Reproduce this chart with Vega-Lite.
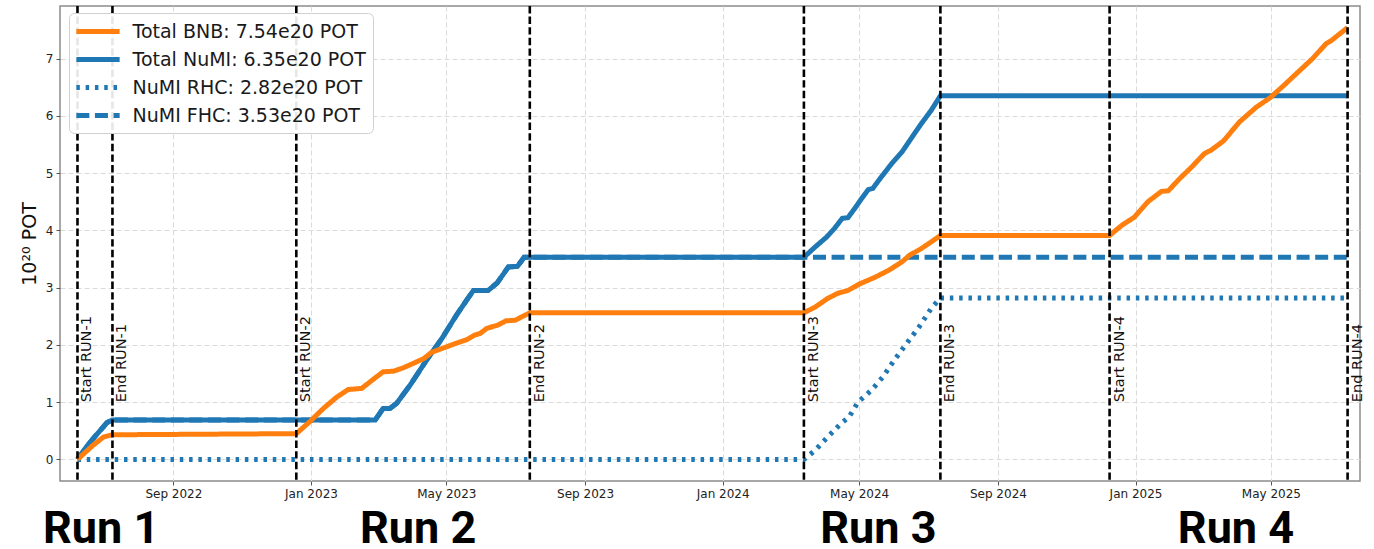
{
  "$schema": "https://vega.github.io/schema/vega-lite/v6.json",
  "width": 1300,
  "height": 475,
  "autosize": {"type": "none"},
  "padding": {"left": 60, "top": 6, "right": 14, "bottom": 68},
  "background": "white",
  "config": {
    "font": "DejaVu Sans",
    "view": {"stroke": "#8c8c8c", "strokeWidth": 1.5},
    "axis": {
      "grid": true,
      "gridColor": "#dadada",
      "gridDash": [5, 3],
      "gridWidth": 1,
      "domain": false,
      "tickColor": "#555555",
      "tickSize": 4,
      "labelFont": "DejaVu Sans",
      "labelFontSize": 12,
      "labelColor": "#222222",
      "labelPadding": 3
    }
  },
  "datasets": {
    "pot": [
      {"series": "Total BNB: 7.54e20 POT", "date": "2022-06-08", "pot": 0},
      {"series": "Total BNB: 7.54e20 POT", "date": "2022-06-22", "pot": 0.25},
      {"series": "Total BNB: 7.54e20 POT", "date": "2022-07-01", "pot": 0.39},
      {"series": "Total BNB: 7.54e20 POT", "date": "2022-07-09", "pot": 0.43},
      {"series": "Total BNB: 7.54e20 POT", "date": "2022-12-19", "pot": 0.45},
      {"series": "Total BNB: 7.54e20 POT", "date": "2022-12-31", "pot": 0.66},
      {"series": "Total BNB: 7.54e20 POT", "date": "2023-01-12", "pot": 0.89},
      {"series": "Total BNB: 7.54e20 POT", "date": "2023-01-24", "pot": 1.09},
      {"series": "Total BNB: 7.54e20 POT", "date": "2023-02-03", "pot": 1.22},
      {"series": "Total BNB: 7.54e20 POT", "date": "2023-02-15", "pot": 1.24},
      {"series": "Total BNB: 7.54e20 POT", "date": "2023-02-24", "pot": 1.38},
      {"series": "Total BNB: 7.54e20 POT", "date": "2023-03-06", "pot": 1.53},
      {"series": "Total BNB: 7.54e20 POT", "date": "2023-03-15", "pot": 1.54},
      {"series": "Total BNB: 7.54e20 POT", "date": "2023-03-24", "pot": 1.60},
      {"series": "Total BNB: 7.54e20 POT", "date": "2023-04-02", "pot": 1.68},
      {"series": "Total BNB: 7.54e20 POT", "date": "2023-04-11", "pot": 1.76},
      {"series": "Total BNB: 7.54e20 POT", "date": "2023-04-18", "pot": 1.87},
      {"series": "Total BNB: 7.54e20 POT", "date": "2023-04-29", "pot": 1.95},
      {"series": "Total BNB: 7.54e20 POT", "date": "2023-05-10", "pot": 2.03},
      {"series": "Total BNB: 7.54e20 POT", "date": "2023-05-19", "pot": 2.09},
      {"series": "Total BNB: 7.54e20 POT", "date": "2023-05-26", "pot": 2.17},
      {"series": "Total BNB: 7.54e20 POT", "date": "2023-05-31", "pot": 2.20},
      {"series": "Total BNB: 7.54e20 POT", "date": "2023-06-06", "pot": 2.29},
      {"series": "Total BNB: 7.54e20 POT", "date": "2023-06-15", "pot": 2.34},
      {"series": "Total BNB: 7.54e20 POT", "date": "2023-06-23", "pot": 2.42},
      {"series": "Total BNB: 7.54e20 POT", "date": "2023-07-01", "pot": 2.43},
      {"series": "Total BNB: 7.54e20 POT", "date": "2023-07-08", "pot": 2.50},
      {"series": "Total BNB: 7.54e20 POT", "date": "2023-07-14", "pot": 2.56},
      {"series": "Total BNB: 7.54e20 POT", "date": "2024-03-13", "pot": 2.56},
      {"series": "Total BNB: 7.54e20 POT", "date": "2024-03-23", "pot": 2.66},
      {"series": "Total BNB: 7.54e20 POT", "date": "2024-04-03", "pot": 2.81},
      {"series": "Total BNB: 7.54e20 POT", "date": "2024-04-12", "pot": 2.90},
      {"series": "Total BNB: 7.54e20 POT", "date": "2024-04-21", "pot": 2.95},
      {"series": "Total BNB: 7.54e20 POT", "date": "2024-05-02", "pot": 3.07},
      {"series": "Total BNB: 7.54e20 POT", "date": "2024-05-15", "pot": 3.18},
      {"series": "Total BNB: 7.54e20 POT", "date": "2024-05-27", "pot": 3.30},
      {"series": "Total BNB: 7.54e20 POT", "date": "2024-06-08", "pot": 3.45},
      {"series": "Total BNB: 7.54e20 POT", "date": "2024-06-15", "pot": 3.57},
      {"series": "Total BNB: 7.54e20 POT", "date": "2024-06-25", "pot": 3.68},
      {"series": "Total BNB: 7.54e20 POT", "date": "2024-07-04", "pot": 3.80},
      {"series": "Total BNB: 7.54e20 POT", "date": "2024-07-12", "pot": 3.91},
      {"series": "Total BNB: 7.54e20 POT", "date": "2024-12-09", "pot": 3.91},
      {"series": "Total BNB: 7.54e20 POT", "date": "2024-12-20", "pot": 4.09},
      {"series": "Total BNB: 7.54e20 POT", "date": "2024-12-31", "pot": 4.23},
      {"series": "Total BNB: 7.54e20 POT", "date": "2025-01-12", "pot": 4.50},
      {"series": "Total BNB: 7.54e20 POT", "date": "2025-01-24", "pot": 4.68},
      {"series": "Total BNB: 7.54e20 POT", "date": "2025-01-30", "pot": 4.69},
      {"series": "Total BNB: 7.54e20 POT", "date": "2025-02-09", "pot": 4.90},
      {"series": "Total BNB: 7.54e20 POT", "date": "2025-02-20", "pot": 5.11},
      {"series": "Total BNB: 7.54e20 POT", "date": "2025-03-03", "pot": 5.34},
      {"series": "Total BNB: 7.54e20 POT", "date": "2025-03-09", "pot": 5.40},
      {"series": "Total BNB: 7.54e20 POT", "date": "2025-03-20", "pot": 5.56},
      {"series": "Total BNB: 7.54e20 POT", "date": "2025-04-03", "pot": 5.89},
      {"series": "Total BNB: 7.54e20 POT", "date": "2025-04-18", "pot": 6.15},
      {"series": "Total BNB: 7.54e20 POT", "date": "2025-04-30", "pot": 6.31},
      {"series": "Total BNB: 7.54e20 POT", "date": "2025-05-13", "pot": 6.54},
      {"series": "Total BNB: 7.54e20 POT", "date": "2025-05-26", "pot": 6.78},
      {"series": "Total BNB: 7.54e20 POT", "date": "2025-06-07", "pot": 7.00},
      {"series": "Total BNB: 7.54e20 POT", "date": "2025-06-19", "pot": 7.26},
      {"series": "Total BNB: 7.54e20 POT", "date": "2025-06-24", "pot": 7.32},
      {"series": "Total BNB: 7.54e20 POT", "date": "2025-07-08", "pot": 7.54},

      {"series": "Total NuMI: 6.35e20 POT", "date": "2022-06-08", "pot": 0},
      {"series": "Total NuMI: 6.35e20 POT", "date": "2022-06-16", "pot": 0.22},
      {"series": "Total NuMI: 6.35e20 POT", "date": "2022-06-23", "pot": 0.39},
      {"series": "Total NuMI: 6.35e20 POT", "date": "2022-07-01", "pot": 0.57},
      {"series": "Total NuMI: 6.35e20 POT", "date": "2022-07-04", "pot": 0.64},
      {"series": "Total NuMI: 6.35e20 POT", "date": "2022-07-09", "pot": 0.69},
      {"series": "Total NuMI: 6.35e20 POT", "date": "2023-02-27", "pot": 0.69},
      {"series": "Total NuMI: 6.35e20 POT", "date": "2023-03-06", "pot": 0.89},
      {"series": "Total NuMI: 6.35e20 POT", "date": "2023-03-12", "pot": 0.89},
      {"series": "Total NuMI: 6.35e20 POT", "date": "2023-03-18", "pot": 0.98},
      {"series": "Total NuMI: 6.35e20 POT", "date": "2023-03-30", "pot": 1.30},
      {"series": "Total NuMI: 6.35e20 POT", "date": "2023-04-13", "pot": 1.72},
      {"series": "Total NuMI: 6.35e20 POT", "date": "2023-04-27", "pot": 2.11},
      {"series": "Total NuMI: 6.35e20 POT", "date": "2023-05-10", "pot": 2.52},
      {"series": "Total NuMI: 6.35e20 POT", "date": "2023-05-19", "pot": 2.78},
      {"series": "Total NuMI: 6.35e20 POT", "date": "2023-05-25", "pot": 2.95},
      {"series": "Total NuMI: 6.35e20 POT", "date": "2023-06-07", "pot": 2.95},
      {"series": "Total NuMI: 6.35e20 POT", "date": "2023-06-15", "pot": 3.08},
      {"series": "Total NuMI: 6.35e20 POT", "date": "2023-06-25", "pot": 3.36},
      {"series": "Total NuMI: 6.35e20 POT", "date": "2023-07-03", "pot": 3.37},
      {"series": "Total NuMI: 6.35e20 POT", "date": "2023-07-09", "pot": 3.53},
      {"series": "Total NuMI: 6.35e20 POT", "date": "2023-07-14", "pot": 3.53},
      {"series": "Total NuMI: 6.35e20 POT", "date": "2024-03-13", "pot": 3.53},
      {"series": "Total NuMI: 6.35e20 POT", "date": "2024-03-23", "pot": 3.71},
      {"series": "Total NuMI: 6.35e20 POT", "date": "2024-04-02", "pot": 3.88},
      {"series": "Total NuMI: 6.35e20 POT", "date": "2024-04-09", "pot": 4.03},
      {"series": "Total NuMI: 6.35e20 POT", "date": "2024-04-16", "pot": 4.21},
      {"series": "Total NuMI: 6.35e20 POT", "date": "2024-04-21", "pot": 4.22},
      {"series": "Total NuMI: 6.35e20 POT", "date": "2024-04-27", "pot": 4.38},
      {"series": "Total NuMI: 6.35e20 POT", "date": "2024-05-03", "pot": 4.55},
      {"series": "Total NuMI: 6.35e20 POT", "date": "2024-05-09", "pot": 4.71},
      {"series": "Total NuMI: 6.35e20 POT", "date": "2024-05-13", "pot": 4.73},
      {"series": "Total NuMI: 6.35e20 POT", "date": "2024-05-19", "pot": 4.89},
      {"series": "Total NuMI: 6.35e20 POT", "date": "2024-05-30", "pot": 5.17},
      {"series": "Total NuMI: 6.35e20 POT", "date": "2024-06-08", "pot": 5.37},
      {"series": "Total NuMI: 6.35e20 POT", "date": "2024-06-18", "pot": 5.66},
      {"series": "Total NuMI: 6.35e20 POT", "date": "2024-06-25", "pot": 5.86},
      {"series": "Total NuMI: 6.35e20 POT", "date": "2024-07-04", "pot": 6.10},
      {"series": "Total NuMI: 6.35e20 POT", "date": "2024-07-12", "pot": 6.35},
      {"series": "Total NuMI: 6.35e20 POT", "date": "2025-07-08", "pot": 6.35},

      {"series": "NuMI RHC: 2.82e20 POT", "date": "2022-06-08", "pot": 0},
      {"series": "NuMI RHC: 2.82e20 POT", "date": "2024-03-13", "pot": 0},
      {"series": "NuMI RHC: 2.82e20 POT", "date": "2024-03-23", "pot": 0.16},
      {"series": "NuMI RHC: 2.82e20 POT", "date": "2024-04-03", "pot": 0.39},
      {"series": "NuMI RHC: 2.82e20 POT", "date": "2024-04-15", "pot": 0.63},
      {"series": "NuMI RHC: 2.82e20 POT", "date": "2024-04-22", "pot": 0.74},
      {"series": "NuMI RHC: 2.82e20 POT", "date": "2024-04-30", "pot": 1.00},
      {"series": "NuMI RHC: 2.82e20 POT", "date": "2024-05-12", "pot": 1.21},
      {"series": "NuMI RHC: 2.82e20 POT", "date": "2024-05-22", "pot": 1.44},
      {"series": "NuMI RHC: 2.82e20 POT", "date": "2024-06-01", "pot": 1.73},
      {"series": "NuMI RHC: 2.82e20 POT", "date": "2024-06-10", "pot": 1.97},
      {"series": "NuMI RHC: 2.82e20 POT", "date": "2024-06-23", "pot": 2.31},
      {"series": "NuMI RHC: 2.82e20 POT", "date": "2024-07-04", "pot": 2.64},
      {"series": "NuMI RHC: 2.82e20 POT", "date": "2024-07-12", "pot": 2.82},
      {"series": "NuMI RHC: 2.82e20 POT", "date": "2025-07-08", "pot": 2.82},

      {"series": "NuMI FHC: 3.53e20 POT", "date": "2022-06-08", "pot": 0},
      {"series": "NuMI FHC: 3.53e20 POT", "date": "2022-06-16", "pot": 0.22},
      {"series": "NuMI FHC: 3.53e20 POT", "date": "2022-06-23", "pot": 0.39},
      {"series": "NuMI FHC: 3.53e20 POT", "date": "2022-07-01", "pot": 0.57},
      {"series": "NuMI FHC: 3.53e20 POT", "date": "2022-07-04", "pot": 0.64},
      {"series": "NuMI FHC: 3.53e20 POT", "date": "2022-07-09", "pot": 0.69},
      {"series": "NuMI FHC: 3.53e20 POT", "date": "2023-02-27", "pot": 0.69},
      {"series": "NuMI FHC: 3.53e20 POT", "date": "2023-03-06", "pot": 0.89},
      {"series": "NuMI FHC: 3.53e20 POT", "date": "2023-03-12", "pot": 0.89},
      {"series": "NuMI FHC: 3.53e20 POT", "date": "2023-03-18", "pot": 0.98},
      {"series": "NuMI FHC: 3.53e20 POT", "date": "2023-03-30", "pot": 1.30},
      {"series": "NuMI FHC: 3.53e20 POT", "date": "2023-04-13", "pot": 1.72},
      {"series": "NuMI FHC: 3.53e20 POT", "date": "2023-04-27", "pot": 2.11},
      {"series": "NuMI FHC: 3.53e20 POT", "date": "2023-05-10", "pot": 2.52},
      {"series": "NuMI FHC: 3.53e20 POT", "date": "2023-05-19", "pot": 2.78},
      {"series": "NuMI FHC: 3.53e20 POT", "date": "2023-05-25", "pot": 2.95},
      {"series": "NuMI FHC: 3.53e20 POT", "date": "2023-06-07", "pot": 2.95},
      {"series": "NuMI FHC: 3.53e20 POT", "date": "2023-06-15", "pot": 3.08},
      {"series": "NuMI FHC: 3.53e20 POT", "date": "2023-06-25", "pot": 3.36},
      {"series": "NuMI FHC: 3.53e20 POT", "date": "2023-07-03", "pot": 3.37},
      {"series": "NuMI FHC: 3.53e20 POT", "date": "2023-07-09", "pot": 3.53},
      {"series": "NuMI FHC: 3.53e20 POT", "date": "2023-07-14", "pot": 3.53},
      {"series": "NuMI FHC: 3.53e20 POT", "date": "2024-03-13", "pot": 3.53},
      {"series": "NuMI FHC: 3.53e20 POT", "date": "2025-07-08", "pot": 3.53}
    ],
    "runs": [
      {"date": "2022-06-08", "label": "Start RUN-1", "yv": 1},
      {"date": "2022-07-09", "label": "End RUN-1", "yv": 1},
      {"date": "2022-12-19", "label": "Start RUN-2", "yv": 1},
      {"date": "2023-07-14", "label": "End RUN-2", "yv": 1},
      {"date": "2024-03-13", "label": "Start RUN-3", "yv": 1},
      {"date": "2024-07-12", "label": "End RUN-3", "yv": 1},
      {"date": "2024-12-09", "label": "Start RUN-4", "yv": 1},
      {"date": "2025-07-08", "label": "End RUN-4", "yv": 1}
    ],
    "periods": [
      {"date": "2022-06-29", "label": "Run 1", "yv": -1.46},
      {"date": "2023-04-06", "label": "Run 2", "yv": -1.46},
      {"date": "2024-05-18", "label": "Run 3", "yv": -1.46},
      {"date": "2025-03-31", "label": "Run 4", "yv": -1.46}
    ]
  },
  "layer": [
    {
      "data": {"name": "pot"},
      "encoding": {
        "x": {
          "field": "date",
          "type": "temporal",
          "title": null,
          "scale": {
            "type": "utc",
            "domain": [
              {"year": 2022, "month": 5, "date": 23, "hours": 12, "utc": true},
              {"year": 2025, "month": 7, "date": 19, "utc": true}
            ]
          },
          "axis": {
            "format": "%b %Y",
            "values": [
              {"year": 2022, "month": 9, "date": 1, "utc": true},
              {"year": 2023, "month": 1, "date": 1, "utc": true},
              {"year": 2023, "month": 5, "date": 1, "utc": true},
              {"year": 2023, "month": 9, "date": 1, "utc": true},
              {"year": 2024, "month": 1, "date": 1, "utc": true},
              {"year": 2024, "month": 5, "date": 1, "utc": true},
              {"year": 2024, "month": 9, "date": 1, "utc": true},
              {"year": 2025, "month": 1, "date": 1, "utc": true},
              {"year": 2025, "month": 5, "date": 1, "utc": true}
            ]
          }
        },
        "y": {
          "field": "pot",
          "type": "quantitative",
          "title": "10²⁰ POT",
          "scale": {"domain": [-0.377, 7.917], "nice": false, "zero": false},
          "axis": {
            "values": [0, 1, 2, 3, 4, 5, 6, 7],
            "format": "d",
            "titleFont": "DejaVu Sans",
            "titleFontSize": 19,
            "titleFontWeight": "normal",
            "titleColor": "#111111",
            "titlePadding": 6
          }
        },
        "color": {
          "field": "series",
          "type": "nominal",
          "scale": {
            "domain": ["Total BNB: 7.54e20 POT", "Total NuMI: 6.35e20 POT", "NuMI RHC: 2.82e20 POT", "NuMI FHC: 3.53e20 POT"],
            "range": ["#ff7f0e", "#1f77b4", "#1f77b4", "#1f77b4"]
          },
          "legend": {
            "orient": "none",
            "legendX": 9,
            "legendY": 7,
            "title": null,
            "symbolType": "M-2.5,0H2.5",
            "symbolSize": 300,
            "symbolOffset": 10.5,
            "labelFont": "DejaVu Sans",
            "labelFontSize": 19,
            "labelColor": "#1a1a1a",
            "labelLimit": 500,
            "labelOffset": 23,
            "padding": 7,
            "rowPadding": 6,
            "fillColor": "rgba(255,255,255,0.9)",
            "strokeColor": "#d0d0d0",
            "cornerRadius": 5
          }
        },
        "strokeDash": {
          "field": "series",
          "type": "nominal",
          "scale": {
            "domain": ["Total BNB: 7.54e20 POT", "Total NuMI: 6.35e20 POT", "NuMI RHC: 2.82e20 POT", "NuMI FHC: 3.53e20 POT"],
            "range": [[1, 0], [1, 0], [3.5, 5.8], [13, 5.6]]
          }
        },
        "strokeWidth": {
          "field": "series",
          "type": "nominal",
          "scale": {
            "domain": ["Total BNB: 7.54e20 POT", "Total NuMI: 6.35e20 POT", "NuMI RHC: 2.82e20 POT", "NuMI FHC: 3.53e20 POT"],
            "range": [5, 5, 3.5, 3.5]
          }
        }
      },
      "layer": [
        {"transform": [{"filter": "datum.series === 'NuMI FHC: 3.53e20 POT'"}], "mark": {"type": "line"}},
        {"transform": [{"filter": "datum.series === 'NuMI RHC: 2.82e20 POT'"}], "mark": {"type": "line"}},
        {"transform": [{"filter": "datum.series === 'Total NuMI: 6.35e20 POT'"}], "mark": {"type": "line"}},
        {"transform": [{"filter": "datum.series === 'Total BNB: 7.54e20 POT'"}], "mark": {"type": "line"}}
      ]
    },
    {
      "data": {"name": "runs"},
      "mark": {"type": "rule", "color": "#000000", "strokeWidth": 2.6, "strokeDash": [7.4, 3.2]},
      "encoding": {
        "x": {"field": "date", "type": "temporal", "title": null}
      }
    },
    {
      "data": {"name": "runs"},
      "mark": {"type": "text", "angle": 270, "align": "left", "baseline": "top", "dy": 3, "fontSize": 14.5, "font": "DejaVu Sans", "color": "#111111"},
      "encoding": {
        "x": {"field": "date", "type": "temporal", "title": null},
        "y": {"field": "yv", "type": "quantitative", "title": "10²⁰ POT"},
        "text": {"field": "label"}
      }
    },
    {
      "data": {"name": "periods"},
      "mark": {"type": "text", "align": "center", "baseline": "alphabetic", "fontSize": 45, "font": "Roboto", "fontWeight": "bold", "color": "#000000"},
      "encoding": {
        "x": {"field": "date", "type": "temporal", "title": null},
        "y": {"field": "yv", "type": "quantitative", "title": "10²⁰ POT"},
        "text": {"field": "label"}
      }
    }
  ]
}
